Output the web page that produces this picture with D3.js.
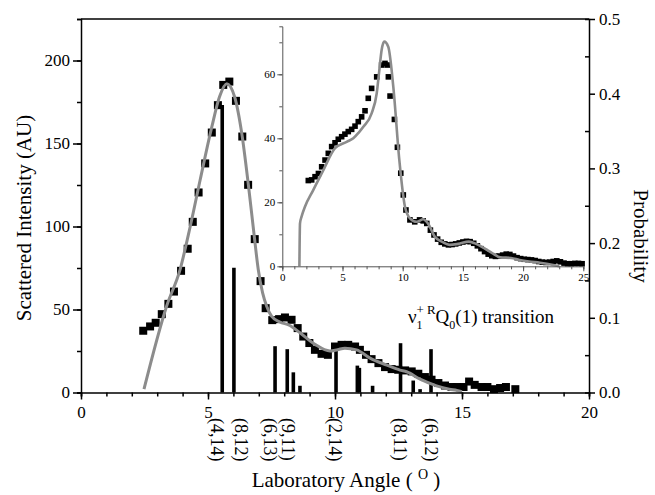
<!DOCTYPE html>
<html>
<head>
<meta charset="utf-8">
<script src="https://cdn.jsdelivr.net/npm/d3@7"></script>
<style>
  body { margin: 0; background: #fff; }
  svg { display: block; }
</style>
</head>
<body>
<script>
// main panel: measured scattered intensity vs lab angle
const mainAngle = [2.45,2.72,2.94,3.18,3.44,3.66,3.94,4.20,4.40,4.63,4.89,5.15,5.39,5.60,5.84,6.10,6.35,6.58,6.84,7.07,7.27,7.53,7.80,8.03,8.29,8.53,8.75,8.99,9.21,9.47,9.72,10.00,10.26,10.52,10.79,10.98,11.22,11.44,11.71,11.97,12.23,12.49,12.76,13.02,13.28,13.54,13.80,14.07,14.33,14.59,14.80,15.06,15.28,15.50,15.77,16.00,16.26,16.50,16.73,17.10];
const mainIntensity = [37.2,39.8,42.0,47.2,53.4,60.8,73.3,86.6,102.8,120.5,138.0,156.6,173.1,185.3,187.3,175.7,154.2,125.1,92.4,67.1,50.8,43.6,44.2,45.2,43.8,38.8,33.7,29.8,25.7,23.3,22.7,27.7,28.7,28.7,27.7,25.7,22.7,20.1,17.7,15.3,14.1,13.7,13.3,12.7,11.3,9.3,7.7,5.7,4.2,3.3,3.3,3.3,6.6,4.6,3.3,3.3,2.0,2.7,3.3,2.0];

// fitted curve (grey)
const fitAngle = [2.48,3.37,3.9,4.3,4.69,5.15,5.45,5.74,6.05,6.33,6.59,6.8,6.98,7.15,7.31,7.5,7.83,8.2,8.62,9.21,9.8,10.1,10.39,10.85,11.38,12.04,12.56,12.82,13.35,14.0,14.5,14.8,15.0];
const fitIntensity = [2.0,52,74,100,128,160,178,186,178,156,125,97,74,60,52,46,42.5,40.5,36,29,25,25.8,26.7,25.7,20.7,16.5,13.5,12.5,8,4,2,1.2,0.5];

// rotational state probabilities (sticks, right axis)
const barAngle = [5.56,6.02,7.64,8.12,8.36,8.62,10.04,10.88,10.96,11.48,12.58,13.08,13.35,13.78];
const barProb = [0.385,0.167,0.062,0.058,0.027,0.009,0.062,0.036,0.033,0.009,0.066,0.016,0.0045,0.058];

const labelText = ["(4,14)","(8,12)","(6,13)","(9,11)","(2,14)","(8,11)","(6,12)"];
const labelAngle = [5.35,6.3,7.45,8.15,10.0,12.55,13.78];

// inset: nu1+ RQ0(1) transition
const insetAngle = [2.16,2.44,2.72,3.0,3.27,3.55,3.82,4.1,4.38,4.65,4.93,5.2,5.48,5.76,6.04,6.31,6.59,6.87,7.14,7.42,7.84,8.25,8.53,8.72,8.81,8.95,9.31,9.56,9.84,10.05,10.27,10.6,11.0,11.4,11.7,12.0,12.3,12.6,12.9,13.2,13.5,13.8,14.1,14.4,14.7,15.0,15.3,15.6,15.9,16.2,16.5,16.8,17.1,17.4,17.7,18.0,18.3,18.6,18.9,19.2,19.5,19.8,20.1,20.4,20.7,21.0,21.3,21.6,21.9,22.2,22.5,22.8,23.1,23.4,23.7,24.0,24.3,24.6,24.9];
const insetValue = [26.8,27,28,29,31.1,33.2,35.3,37.4,38.6,39.7,40.5,41.3,42.1,42.8,43.8,45.2,46.7,48.6,52.5,55.6,59.2,62.9,63.4,62.9,59.2,53.2,45.9,37.2,29.1,22.3,17.6,14.5,13.9,14.5,14.2,13.4,11.3,9.8,8.5,7.5,7.0,6.7,6.8,7.0,7.3,7.6,7.8,7.7,7.2,6.4,5.5,4.6,3.8,3.3,3.1,3.2,3.5,3.8,3.7,3.2,2.7,2.4,2.2,2.1,2.0,1.8,1.5,1.3,1.2,1.3,1.5,1.7,1.4,1.0,0.8,0.8,0.9,0.9,0.8];

const insetFitAngle = [1.42,1.47,1.6,1.88,2.57,3.4,4.38,5.35,5.9,6.35,6.73,7.42,7.84,8.05,8.25,8.47,8.8,9.22,9.72,10.19,10.6,11.16,11.7,12.1,12.68,13.3,13.9,14.6,15.5,16.1,16.8,17.4,18.1,19.0,19.7,20.5,21.4,22.5,23.0];
const insetFitValue = [0,13.4,15.5,18.6,23.8,30,36.9,38.9,40,41.8,43.6,47.8,54,61,67.6,70.2,68.6,56.1,33.2,18.6,15,13.9,14.7,13.4,9.2,7.6,6.7,7.0,7.7,7.0,5.6,4.2,2.8,2.6,2.0,1.5,1.1,0.4,0];

const W = 655, H = 495;
const serif = "'Liberation Serif', 'Times New Roman', serif";
const grey = "#8c8c8c";

const svg = d3.create("svg")
  .attr("width", W)
  .attr("height", H)
  .attr("font-family", serif);

// scales
const x = d3.scaleLinear().domain([0, 20]).range([81, 589]);
const yL = d3.scaleLinear().domain([0, 225]).range([392.5, 19]);
const yR = d3.scaleLinear().domain([0, 0.5]).range([392.5, 19]);
const xi = d3.scaleLinear().domain([0, 25]).range([282.3, 583.3]);
const yi = d3.scaleLinear().domain([0, 75]).range([266.3, 26.3]);

// sticks
svg.append("g")
  .attr("stroke", "#000")
  .attr("stroke-width", 3.6)
  .selectAll("line")
  .data(barAngle.map((a, i) => [a, barProb[i]]))
  .join("line")
  .attr("x1", d => x(d[0])).attr("x2", d => x(d[0]))
  .attr("y1", yR(0)).attr("y2", d => yR(d[1]));

// data squares
svg.append("g")
  .selectAll("rect")
  .data(mainAngle.map((a, i) => [a, mainIntensity[i]]))
  .join("rect")
  .attr("x", d => x(d[0]) - 4).attr("y", d => yL(d[1]) - 4)
  .attr("width", 8).attr("height", 8)
  .attr("fill", "#000");

// fit line
svg.append("path")
  .datum(fitAngle.map((a, i) => [a, fitIntensity[i]]))
  .attr("fill", "none")
  .attr("stroke", grey)
  .attr("stroke-width", 3)
  .attr("d", d3.line().x(d => x(d[0])).y(d => yL(d[1])).curve(d3.curveMonotoneX));

// axes
const styleAxis = g => {
  g.select(".domain").attr("stroke-width", 1.5);
  g.selectAll(".tick line").attr("stroke-width", 1.5);
  g.selectAll("text").attr("font-family", serif).attr("font-size", 17).attr("fill", "#000");
};

svg.append("g")
  .attr("transform", `translate(0,${yL(0)})`)
  .call(d3.axisBottom(x).tickValues(d3.range(0, 21, 1)).tickSize(4).tickFormat(""))
  .call(styleAxis);
svg.append("g")
  .attr("transform", `translate(0,${yL(0)})`)
  .call(d3.axisBottom(x).tickValues([0, 5, 10, 15, 20]).tickSize(7).tickPadding(6))
  .call(styleAxis)
  .call(g => g.select(".domain").remove());

svg.append("g")
  .attr("transform", `translate(${x(0)},0)`)
  .call(d3.axisLeft(yL).tickValues(d3.range(0, 226, 25)).tickSize(4).tickFormat(""))
  .call(styleAxis);
svg.append("g")
  .attr("transform", `translate(${x(0)},0)`)
  .call(d3.axisLeft(yL).tickValues([0, 50, 100, 150, 200]).tickSize(8).tickPadding(3))
  .call(styleAxis)
  .call(g => g.select(".domain").remove());

svg.append("g")
  .attr("transform", `translate(${x(20)},0)`)
  .call(d3.axisRight(yR).tickValues(d3.range(0.05, 0.5, 0.1)).tickSize(-4).tickFormat(""))
  .call(styleAxis);
svg.append("g")
  .attr("transform", `translate(${x(20)},0)`)
  .call(d3.axisRight(yR).tickValues([0, 0.1, 0.2, 0.3, 0.4, 0.5]).tickSize(6).tickPadding(4).tickFormat(d3.format(".1f")))
  .call(styleAxis)
  .call(g => g.select(".domain").remove());

// top frame
svg.append("line")
  .attr("x1", x(0)).attr("x2", x(20))
  .attr("y1", yL(225)).attr("y2", yL(225))
  .attr("stroke", "#000").attr("stroke-width", 1.5);

// stick labels, rotated
svg.append("g")
  .attr("font-size", 18)
  .selectAll("text")
  .data(labelText.map((t, i) => [t, labelAngle[i]]))
  .join("text")
  .attr("transform", d => `translate(${x(d[1])},418) rotate(90)`)
  .attr("dominant-baseline", "central")
  .text(d => d[0]);

// axis titles
svg.append("text")
  .attr("x", 346).attr("y", 487)
  .attr("text-anchor", "middle")
  .attr("font-size", 21)
  .call(t => {
    t.append("tspan").text("Laboratory Angle ( ");
    t.append("tspan").attr("font-size", 14).attr("dy", -8).text("O");
    t.append("tspan").attr("dy", 8).text(" )");
  });

svg.append("text")
  .attr("transform", "translate(31,218) rotate(-90)")
  .attr("text-anchor", "middle")
  .attr("font-size", 21)
  .text("Scattered Intensity (AU)");

svg.append("text")
  .attr("transform", "translate(634,236) rotate(90)")
  .attr("text-anchor", "middle")
  .attr("font-size", 21)
  .text("Probability");

// ---- inset ----
const inset = svg.append("g");

inset.append("g")
  .selectAll("rect")
  .data(insetAngle.map((a, i) => [a, insetValue[i]]))
  .join("rect")
  .attr("x", d => xi(d[0]) - 2.8).attr("y", d => yi(d[1]) - 2.8)
  .attr("width", 5.6).attr("height", 5.6)
  .attr("fill", "#000");

inset.append("path")
  .datum(insetFitAngle.map((a, i) => [a, insetFitValue[i]]))
  .attr("fill", "none")
  .attr("stroke", grey)
  .attr("stroke-width", 2.6)
  .attr("d", d3.line().x(d => xi(d[0])).y(d => yi(d[1])).curve(d3.curveMonotoneX));

const styleInset = g => {
  g.select(".domain").attr("stroke", "#555");
  g.selectAll(".tick line").attr("stroke", "#555");
  g.selectAll("text").attr("font-family", serif).attr("font-size", 11).attr("fill", "#000");
};

inset.append("g")
  .attr("transform", `translate(0,${yi(0)})`)
  .call(d3.axisBottom(xi).tickValues(d3.range(0, 26, 1)).tickSize(3).tickFormat(""))
  .call(styleInset);
inset.append("g")
  .attr("transform", `translate(0,${yi(0)})`)
  .call(d3.axisBottom(xi).tickValues([0, 5, 10, 15, 20, 25]).tickSize(5).tickPadding(2))
  .call(styleInset)
  .call(g => g.select(".domain").remove());

inset.append("g")
  .attr("transform", `translate(${xi(0)},0)`)
  .call(d3.axisLeft(yi).tickValues(d3.range(0, 76, 10)).tickSize(3).tickFormat(""))
  .call(styleInset);
inset.append("g")
  .attr("transform", `translate(${xi(0)},0)`)
  .call(d3.axisLeft(yi).tickValues([0, 20, 40, 60]).tickSize(5).tickPadding(2))
  .call(styleInset)
  .call(g => g.select(".domain").remove());

// inset caption
svg.append("text")
  .attr("x", 408).attr("y", 323)
  .attr("font-size", 19)
  .call(t => {
    t.append("tspan").text("ν");
    t.append("tspan").attr("font-size", 12).attr("dx", 0).attr("dy", 6).text("1");
    t.append("tspan").attr("font-size", 13).attr("dx", -6).attr("dy", -15).text("+");
    t.append("tspan").attr("font-size", 13).attr("dx", 3).text("R");
    t.append("tspan").attr("dy", 9).text("Q");
    t.append("tspan").attr("font-size", 12).attr("dy", 6).text("0");
    t.append("tspan").attr("dy", -6).text("(1) transition");
  });

d3.select("body").append(() => svg.node());
</script>
</body>
</html>
